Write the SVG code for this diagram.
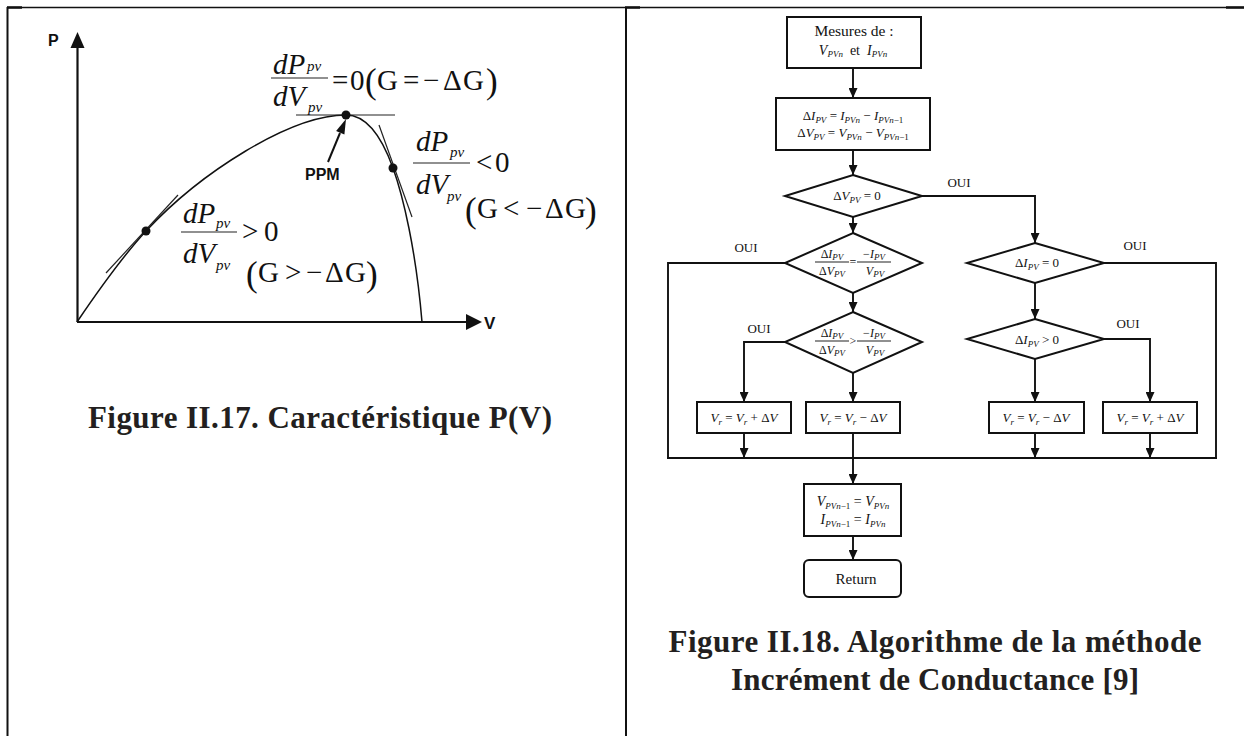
<svg xmlns="http://www.w3.org/2000/svg" width="1244" height="736" viewBox="0 0 1244 736">
<defs>
<marker id="ah" markerUnits="userSpaceOnUse" markerWidth="10" markerHeight="9" viewBox="0 0 10 9" refX="10" refY="4.5" orient="auto"><path d="M0,0 L10,4.5 L0,9 Z" fill="#111"/></marker>
</defs>
<style>
.ln{stroke:#111;stroke-width:1.9;fill:none}
.bx{stroke:#111;stroke-width:2;fill:#fff}
.ax{stroke:#111;stroke-width:2.2;fill:none}
.cv{stroke:#111;stroke-width:1.5;fill:none}
.tg{stroke:#222;stroke-width:1.2;fill:none}
.t{font-family:"Liberation Serif",serif;fill:#111}
.i{font-style:italic}
.up{font-style:normal}
.s{font-size:9px}
.f{font-family:"Liberation Serif",serif;font-size:29px;fill:#111}
.fs{font-family:"Liberation Serif",serif;font-size:15px;font-style:italic;fill:#111}
.fp{font-family:"Liberation Serif",serif;font-size:35px;fill:#111}
.sans{font-family:"Liberation Sans",Arial,sans-serif;font-weight:bold;fill:#111}
.cap{font-family:"Liberation Serif",serif;font-weight:bold;font-size:31px;fill:#231f20}
.oui{font-family:"Liberation Serif",serif;font-size:13px;fill:#111}
</style>
<rect x="0" y="0" width="1244" height="736" fill="#fff"/>

<g id="table">
<line x1="7" y1="7.5" x2="1244" y2="7.5" stroke="#111" stroke-width="1.3"/>
<line x1="7" y1="7.5" x2="22" y2="7.5" stroke="#111" stroke-width="2.5"/>
<line x1="625" y1="7.5" x2="640" y2="7.5" stroke="#111" stroke-width="2.5"/>
<line x1="1226" y1="7.5" x2="1244" y2="7.5" stroke="#111" stroke-width="2.5"/>
<line x1="7.5" y1="7" x2="7.5" y2="736" stroke="#111" stroke-width="2"/>
<line x1="626" y1="7" x2="626" y2="736" stroke="#111" stroke-width="2"/>
</g>

<g id="pv-plot">
<line class="ax" x1="77.5" y1="322" x2="77.5" y2="46"/>
<path d="M77.5,32 L84.5,48 L70.5,48 Z" fill="#111"/>
<line class="ax" x1="77" y1="322" x2="468" y2="322"/>
<path d="M482,322 L466,314 L466,330 Z" fill="#111"/>
<text class="sans" x="48" y="46" font-size="16">P</text>
<text class="sans" x="484" y="329" font-size="17">V</text>
<path class="cv" d="M77,322 C100,288 123,256 146,231 C200,173 290,115 346,115 C370,115 384,143 393,168 C403,196 416,250 422,322"/>
<line class="tg" x1="106" y1="273" x2="178" y2="195"/>
<line class="tg" x1="296" y1="115" x2="395" y2="115"/>
<line class="tg" x1="379" y1="125" x2="412" y2="217"/>
<circle cx="146" cy="231" r="4.5" fill="#111"/>
<circle cx="346" cy="115" r="4.5" fill="#111"/>
<circle cx="393" cy="168" r="4.5" fill="#111"/>
<line x1="328" y1="162" x2="340" y2="133" stroke="#111" stroke-width="2"/>
<path d="M346,119 L344.4,134.5 L336.1,131.1 Z" fill="#111"/>
<text class="sans" x="305" y="180" font-size="16">PPM</text>

<text class="f i" x="273" y="74">dP</text>
<text class="fs" x="307" y="71">pv</text>
<line class="tg" x1="271" y1="78" x2="328" y2="78"/>
<text class="f i" x="273" y="106">dV</text>
<text class="fs" x="308" y="112">pv</text>
<text class="f" y="90"><tspan x="332">=</tspan><tspan x="350">0</tspan></text>
<text class="fp" x="365" y="93">(</text>
<text class="f" y="90"><tspan x="377">G</tspan><tspan x="403">=</tspan><tspan x="423">−</tspan><tspan x="443">Δ</tspan><tspan x="463">G</tspan></text>
<text class="fp" x="486" y="93">)</text>

<text class="f i" x="416" y="151">dP</text>
<text class="fs" x="450" y="157">pv</text>
<line class="tg" x1="413" y1="163" x2="470" y2="163"/>
<text class="f" y="172"><tspan x="476">&lt;</tspan><tspan x="495">0</tspan></text>
<text class="f i" x="416" y="194">dV</text>
<text class="fs" x="447" y="201">pv</text>
<text class="fp" x="465" y="222">(</text>
<text class="f" y="218"><tspan x="477">G</tspan><tspan x="503">&lt;</tspan><tspan x="526">−</tspan><tspan x="545">Δ</tspan><tspan x="565">G</tspan></text>
<text class="fp" x="585" y="222">)</text>

<text class="f i" x="183" y="223">dP</text>
<text class="fs" x="216" y="228">pv</text>
<line class="tg" x1="181" y1="232" x2="237" y2="232"/>
<text class="f" y="241"><tspan x="242">&gt;</tspan><tspan x="264">0</tspan></text>
<text class="f i" x="183" y="263">dV</text>
<text class="fs" x="216" y="270">pv</text>
<text class="fp" x="246" y="286">(</text>
<text class="f" y="282"><tspan x="258">G</tspan><tspan x="285">&gt;</tspan><tspan x="306">−</tspan><tspan x="325">Δ</tspan><tspan x="345">G</tspan></text>
<text class="fp" x="366" y="286">)</text>

<text class="cap" x="320" y="428" text-anchor="middle" textLength="464">Figure II.17. Caractéristique P(V)</text>
</g>

<g id="connectors">
<line class="ln" x1="853" y1="68" x2="853" y2="98" marker-end="url(#ah)"/>
<line class="ln" x1="853" y1="150" x2="853" y2="175" marker-end="url(#ah)"/>
<line class="ln" x1="853" y1="217" x2="853" y2="233" marker-end="url(#ah)"/>
<polyline class="ln" points="922,196 1035,196 1035,243" marker-end="url(#ah)"/>
<line class="ln" x1="853" y1="293" x2="853" y2="312" marker-end="url(#ah)"/>
<polyline class="ln" points="785,263 668,263 668,458"/>
<polyline class="ln" points="1104,263 1216,263 1216,458"/>
<line class="ln" x1="1035" y1="283" x2="1035" y2="319" marker-end="url(#ah)"/>
<polyline class="ln" points="1104,339 1150,339 1150,402" marker-end="url(#ah)"/>
<line class="ln" x1="1035" y1="359" x2="1035" y2="402" marker-end="url(#ah)"/>
<polyline class="ln" points="785,342 744,342 744,402" marker-end="url(#ah)"/>
<line class="ln" x1="853" y1="373" x2="853" y2="402" marker-end="url(#ah)"/>
<line class="ln" x1="744" y1="433" x2="744" y2="458" marker-end="url(#ah)"/>
<line class="ln" x1="1035" y1="433" x2="1035" y2="458" marker-end="url(#ah)"/>
<line class="ln" x1="1150" y1="433" x2="1150" y2="458" marker-end="url(#ah)"/>
<line class="ln" x1="667" y1="458" x2="1217" y2="458"/>
<line class="ln" x1="853" y1="433" x2="853" y2="484" marker-end="url(#ah)"/>
<line class="ln" x1="853" y1="536" x2="853" y2="560" marker-end="url(#ah)"/>
<text class="oui" x="959" y="187" text-anchor="middle">OUI</text>
<text class="oui" x="746" y="252" text-anchor="middle">OUI</text>
<text class="oui" x="1135" y="250" text-anchor="middle">OUI</text>
<text class="oui" x="759" y="333" text-anchor="middle">OUI</text>
<text class="oui" x="1128" y="328" text-anchor="middle">OUI</text>
</g>

<g id="n-mesures">
<rect class="bx" x="787" y="17" width="134" height="51"/>
<text class="t" x="854" y="36" text-anchor="middle" font-size="15.5">Mesures de :</text>
<text class="t" x="853" y="55" text-anchor="middle" font-size="14"><tspan class="i">V</tspan><tspan class="i s" font-size="10" dy="2">PVn</tspan><tspan dy="-2">&#160; et &#160;</tspan><tspan class="i">I</tspan><tspan class="i s" font-size="10" dy="2">PVn</tspan></text>
</g>

<g id="n-delta">
<rect class="bx" x="776" y="98" width="154" height="52"/>
<text class="t i" x="853" y="120" text-anchor="middle" font-size="13"><tspan class="up">Δ</tspan>I<tspan class="s" dy="2.5">PV</tspan><tspan class="up" dy="-2.5"> = </tspan>I<tspan class="s" dy="2.5">PVn</tspan><tspan class="up" dy="-2.5"> − </tspan>I<tspan class="s" dy="2.5">PVn<tspan class="up">−1</tspan></tspan></text>
<text class="t i" x="853" y="137" text-anchor="middle" font-size="13"><tspan class="up">Δ</tspan>V<tspan class="s" dy="2.5">PV</tspan><tspan class="up" dy="-2.5"> = </tspan>V<tspan class="s" dy="2.5">PVn</tspan><tspan class="up" dy="-2.5"> − </tspan>V<tspan class="s" dy="2.5">PVn<tspan class="up">−1</tspan></tspan></text>
</g>

<g id="d-dv0">
<polygon class="bx" points="853,175 922,196 853,217 785,196"/>
<text class="t i" x="857" y="200" text-anchor="middle" font-size="13"><tspan class="up">Δ</tspan>V<tspan class="s" dy="2.5">PV</tspan><tspan class="up" dy="-2.5"> = 0</tspan></text>
</g>

<g id="d-eq">
<polygon class="bx" points="853,233 922,263 853,293 785,263"/>
<text class="t i" x="832" y="258" text-anchor="middle" font-size="12"><tspan class="up">Δ</tspan>I<tspan class="s" font-size="8.5" dy="2">PV</tspan></text>
<line class="tg" x1="815" y1="262" x2="849" y2="262"/>
<text class="t i" x="832" y="275" text-anchor="middle" font-size="12"><tspan class="up">Δ</tspan>V<tspan class="s" font-size="8.5" dy="2">PV</tspan></text>
<text class="t" x="853" y="266" text-anchor="middle" font-size="12">=</text>
<text class="t i" x="874" y="258" text-anchor="middle" font-size="12"><tspan class="up">−</tspan>I<tspan class="s" font-size="8.5" dy="2">PV</tspan></text>
<line class="tg" x1="857" y1="262" x2="891" y2="262"/>
<text class="t i" x="875" y="275" text-anchor="middle" font-size="12">V<tspan class="s" font-size="8.5" dy="2">PV</tspan></text>
</g>

<g id="d-gt">
<polygon class="bx" points="853,312 922,342 853,373 785,342"/>
<text class="t i" x="832" y="337" text-anchor="middle" font-size="12"><tspan class="up">Δ</tspan>I<tspan class="s" font-size="8.5" dy="2">PV</tspan></text>
<line class="tg" x1="815" y1="341" x2="849" y2="341"/>
<text class="t i" x="832" y="354" text-anchor="middle" font-size="12"><tspan class="up">Δ</tspan>V<tspan class="s" font-size="8.5" dy="2">PV</tspan></text>
<text class="t" x="853" y="345" text-anchor="middle" font-size="12">&gt;</text>
<text class="t i" x="874" y="337" text-anchor="middle" font-size="12"><tspan class="up">−</tspan>I<tspan class="s" font-size="8.5" dy="2">PV</tspan></text>
<line class="tg" x1="857" y1="341" x2="891" y2="341"/>
<text class="t i" x="875" y="354" text-anchor="middle" font-size="12">V<tspan class="s" font-size="8.5" dy="2">PV</tspan></text>
</g>

<g id="d-di0">
<polygon class="bx" points="1035,243 1104,263 1035,283 967,263"/>
<text class="t i" x="1037" y="267" text-anchor="middle" font-size="13"><tspan class="up">Δ</tspan>I<tspan class="s" dy="2.5">PV</tspan><tspan class="up" dy="-2.5"> = 0</tspan></text>
</g>

<g id="d-digt">
<polygon class="bx" points="1035,319 1104,339 1035,359 967,339"/>
<text class="t i" x="1037" y="344" text-anchor="middle" font-size="13"><tspan class="up">Δ</tspan>I<tspan class="s" dy="2.5">PV</tspan><tspan class="up" dy="-2.5"> &gt; 0</tspan></text>
</g>

<g id="n-a">
<rect class="bx" x="697" y="402" width="94" height="31"/>
<text class="t i" x="744" y="422" text-anchor="middle" font-size="13">V<tspan class="s" dy="2.5">r</tspan><tspan class="up" dy="-2.5"> = </tspan>V<tspan class="s" dy="2.5">r</tspan><tspan class="up" dy="-2.5"> + Δ</tspan>V</text>
</g>
<g id="n-b">
<rect class="bx" x="806" y="402" width="94" height="31"/>
<text class="t i" x="853" y="422" text-anchor="middle" font-size="13">V<tspan class="s" dy="2.5">r</tspan><tspan class="up" dy="-2.5"> = </tspan>V<tspan class="s" dy="2.5">r</tspan><tspan class="up" dy="-2.5"> − Δ</tspan>V</text>
</g>
<g id="n-c">
<rect class="bx" x="989" y="402" width="95" height="31"/>
<text class="t i" x="1036" y="422" text-anchor="middle" font-size="13">V<tspan class="s" dy="2.5">r</tspan><tspan class="up" dy="-2.5"> = </tspan>V<tspan class="s" dy="2.5">r</tspan><tspan class="up" dy="-2.5"> − Δ</tspan>V</text>
</g>
<g id="n-d">
<rect class="bx" x="1103" y="402" width="94" height="31"/>
<text class="t i" x="1150" y="422" text-anchor="middle" font-size="13">V<tspan class="s" dy="2.5">r</tspan><tspan class="up" dy="-2.5"> = </tspan>V<tspan class="s" dy="2.5">r</tspan><tspan class="up" dy="-2.5"> + Δ</tspan>V</text>
</g>

<g id="n-update">
<rect class="bx" x="804" y="484" width="97" height="52"/>
<text class="t i" x="853" y="506" text-anchor="middle" font-size="14">V<tspan class="s" font-size="10" dy="2.5">PVn<tspan class="up">−1</tspan></tspan><tspan class="up" dy="-2.5"> = </tspan>V<tspan class="s" font-size="10" dy="2.5">PVn</tspan></text>
<text class="t i" x="853" y="524" text-anchor="middle" font-size="14">I<tspan class="s" font-size="10" dy="2.5">PVn<tspan class="up">−1</tspan></tspan><tspan class="up" dy="-2.5"> = </tspan>I<tspan class="s" font-size="10" dy="2.5">PVn</tspan></text>
</g>

<g id="n-return">
<rect class="bx" x="804" y="560" width="97" height="37" rx="5"/>
<text class="t" x="856" y="584" text-anchor="middle" font-size="15">Return</text>
</g>

<g id="caption-right">
<text class="cap" x="935" y="652" text-anchor="middle" textLength="533">Figure II.18. Algorithme de la méthode</text>
<text class="cap" x="935" y="690" text-anchor="middle" textLength="408">Incrément de Conductance [9]</text>
</g>
</svg>
